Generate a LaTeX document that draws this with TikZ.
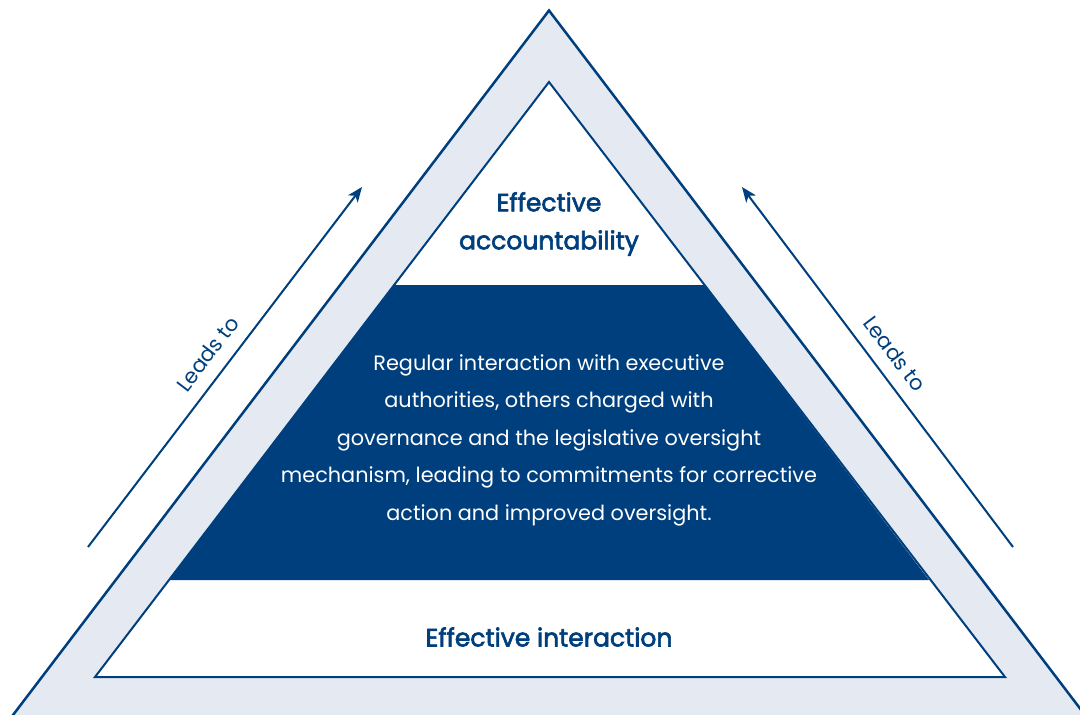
\documentclass[tikz,border=0pt]{standalone}
\usepackage{fontspec}
\setmainfont{Poppins}
\newfontfamily\headfont[FakeBold=2.5]{Poppins}
\usetikzlibrary{
    arrows.meta,
    positioning
}
\definecolor{navy}{RGB}{0,63,125}
\definecolor{paleblue}{RGB}{229,234,242}
\tikzstyle{tier} = [
    text=navy,
    align=center,
    font=\headfont\fontsize{25}{38}\selectfont
]
\tikzstyle{bandtext} = [
    text=white,
    align=center,
    font=\fontsize{20.8}{37.5}\selectfont
]
\tikzstyle{arrow} = [
    -{Stealth[length=15pt, width=12pt, inset=4pt]},
    line width=2pt,
    draw=navy
]
\tikzstyle{edgelabel} = [
    midway,
    sloped,
    above,
    inner sep=13pt,
    text=navy,
    font=\fontsize{21}{22}\selectfont
]
\begin{document}
\begin{tikzpicture}[x=1pt, y=-1pt]
        \useasboundingbox (0,0) rectangle (1080,715);
        \clip (0,0) rectangle (1080,715);

        % Outer frame
        \draw[line width=2.5pt, draw=navy, fill=paleblue] (549,10.5) -- (-6,740) -- (1104,740) -- cycle;

        % Inner triangle with the dark middle band
        \fill[white] (549,82) -- (95,677) -- (1005,677) -- cycle;
        \fill[navy] (394,285) -- (704,285) -- (929,580) -- (169,580) -- cycle;
        \draw[line width=2pt, draw=navy] (549,82) -- (95,677) -- (1005,677) -- cycle;

        % Tiers
        \node[tier] (accountability) at (549,224) {Effective\\accountability};
        \node[bandtext] (regular) at (549,440) {Regular interaction with executive\\authorities, others charged with\\governance and the legislative oversight\\mechanism, leading to commitments for corrective\\action and improved oversight.};
        \node[tier] (interaction) at (549,637) {Effective interaction};

        % Side arrows
        \coordinate (leftfoot) at (88,547);
        \coordinate (lefthead) at (362,187);
        \coordinate (rightfoot) at (1013,547);
        \coordinate (righthead) at (742,187);
        \draw[arrow] (leftfoot) -- node[edgelabel] {Leads to} (lefthead);
        \draw[arrow] (rightfoot) -- node[edgelabel] {Leads to} (righthead);
    \end{tikzpicture}
\end{document}
